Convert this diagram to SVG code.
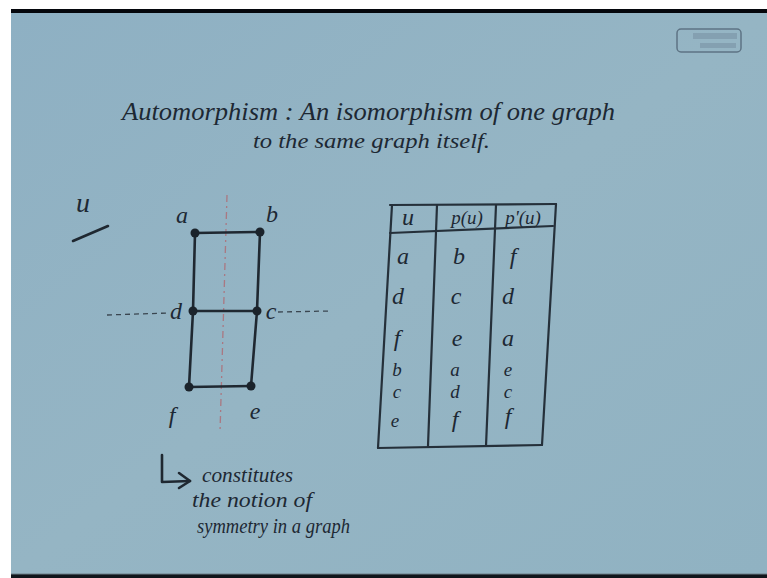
<svg xmlns="http://www.w3.org/2000/svg" width="767" height="578" viewBox="0 0 767 578">
<defs>
<linearGradient id="bg" x1="0" y1="0" x2="1" y2="1">
<stop offset="0" stop-color="#8eb0c3"/>
<stop offset="0.5" stop-color="#95b5c4"/>
<stop offset="1" stop-color="#90b2c2"/>
</linearGradient>
<style>
.hw{font-family:"Liberation Serif","DejaVu Serif",serif;font-style:italic;fill:#1d2833}
.ln{stroke:#1f2831;stroke-width:2.6;fill:none;stroke-linecap:round;stroke-linejoin:round}
.tb{stroke:#25303a;stroke-width:2.2;fill:none;stroke-linecap:round}
.dot{fill:#1b232b}
.lbl{font-size:24px;text-anchor:middle}
.cell{font-size:24px;text-anchor:middle}
.cell2{font-size:19px;text-anchor:middle}
</style>
</defs>
<rect x="0" y="0" width="767" height="578" fill="#ffffff"/>
<rect x="11" y="13" width="756" height="562" fill="url(#bg)"/>
<rect x="11" y="9" width="756" height="4" fill="#05070c"/>
<rect x="11" y="574" width="756" height="4" fill="#10151b"/>
<line x1="11" y1="574" x2="767" y2="574" stroke="#6b7c86" stroke-width="1"/>

<g id="logo">
<rect x="677" y="29" width="64" height="23" rx="4" fill="none" stroke="#5d7384" stroke-width="1.5"/>
<rect x="693" y="33" width="44" height="6" fill="#7d97aa" opacity="0.7"/>
<rect x="700" y="43" width="36" height="5" fill="#7d97aa" opacity="0.7"/>
</g>

<g id="title">
<text class="hw" x="122" y="120" font-size="26" textLength="493" lengthAdjust="spacingAndGlyphs">Automorphism : An isomorphism of one graph</text>
<text class="hw" x="253" y="148" font-size="22" textLength="237" lengthAdjust="spacingAndGlyphs">to the same graph itself.</text>
</g>

<g id="u-heading">
<text class="hw" x="83" y="212" font-size="28" text-anchor="middle">u</text>
<path class="ln" d="M73 241 L108 226"/>
</g>

<g id="connectors">
<line x1="227" y1="195" x2="220" y2="432" stroke="#b06a72" stroke-width="1.3" stroke-dasharray="7 4 2 4" opacity="0.8"/>
<line x1="107" y1="315" x2="168" y2="313" stroke="#3a4650" stroke-width="1.3" stroke-dasharray="5 4"/>
<line x1="278" y1="312" x2="330" y2="311" stroke="#3a4650" stroke-width="1.3" stroke-dasharray="5 4"/>
<path class="ln" d="M195 233 L260 232"/>
<path class="ln" d="M195 233 L193 311"/>
<path class="ln" d="M260 232 L257 311"/>
<path class="ln" d="M193 311 L257 311"/>
<path class="ln" d="M193 311 L189 387"/>
<path class="ln" d="M257 311 L251 386"/>
<path class="ln" d="M189 387 L251 386"/>
</g>

<g id="node-a"><circle class="dot" cx="195" cy="233" r="4.5"/><text class="hw lbl" x="182" y="223">a</text></g>
<g id="node-b"><circle class="dot" cx="260" cy="232" r="4.5"/><text class="hw lbl" x="272" y="222">b</text></g>
<g id="node-d"><circle class="dot" cx="193" cy="311" r="4.5"/><text class="hw lbl" x="176" y="319">d</text></g>
<g id="node-c"><circle class="dot" cx="257" cy="311" r="4.5"/><text class="hw lbl" x="271" y="319">c</text></g>
<g id="node-f"><circle class="dot" cx="189" cy="387" r="4.5"/><text class="hw lbl" x="172" y="423">f</text></g>
<g id="node-e"><circle class="dot" cx="251" cy="386" r="4.5"/><text class="hw lbl" x="255" y="419">e</text></g>

<g id="table">
<path class="tb" d="M390 205 L556 204"/>
<path class="tb" d="M392 205 L378 448"/>
<path class="tb" d="M556 204 L542 445"/>
<path class="tb" d="M378 448 L542 445"/>
<path class="tb" d="M437 205 L428 446"/>
<path class="tb" d="M496 205 L486 446"/>
<path class="tb" d="M390 233 L553 226"/>
<text class="hw cell" x="408" y="225">u</text>
<text class="hw cell2" x="467" y="224">p(u)</text>
<text class="hw cell2" x="523" y="224">p'(u)</text>
<text class="hw cell" x="403" y="264">a</text>
<text class="hw cell" x="459" y="264">b</text>
<text class="hw cell" x="513" y="264">f</text>
<text class="hw cell" x="398" y="304">d</text>
<text class="hw cell" x="456" y="304">c</text>
<text class="hw cell" x="508" y="304">d</text>
<text class="hw cell" x="397" y="346">f</text>
<text class="hw cell" x="457" y="346">e</text>
<text class="hw cell" x="508" y="346">a</text>
<text class="hw cell2" x="397" y="376">b</text>
<text class="hw cell2" x="455" y="376">a</text>
<text class="hw cell2" x="508" y="376">e</text>
<text class="hw cell2" x="397" y="398">c</text>
<text class="hw cell2" x="455" y="398">d</text>
<text class="hw cell2" x="508" y="398">c</text>
<text class="hw cell2" x="395" y="427">e</text>
<text class="hw cell" x="455" y="427">f</text>
<text class="hw cell" x="508" y="424">f</text>
</g>

<g id="note">
<path class="ln" d="M162 455 L162 482 L190 481"/>
<path class="ln" d="M179 473 L190 481 L179 488"/>
<text class="hw" x="202" y="482" font-size="20" textLength="91" lengthAdjust="spacingAndGlyphs">constitutes</text>
<text class="hw" x="192" y="507" font-size="20" textLength="120" lengthAdjust="spacingAndGlyphs">the notion of</text>
<text class="hw" x="197" y="533" font-size="21" textLength="153" lengthAdjust="spacingAndGlyphs">symmetry in a graph</text>
</g>
</svg>
